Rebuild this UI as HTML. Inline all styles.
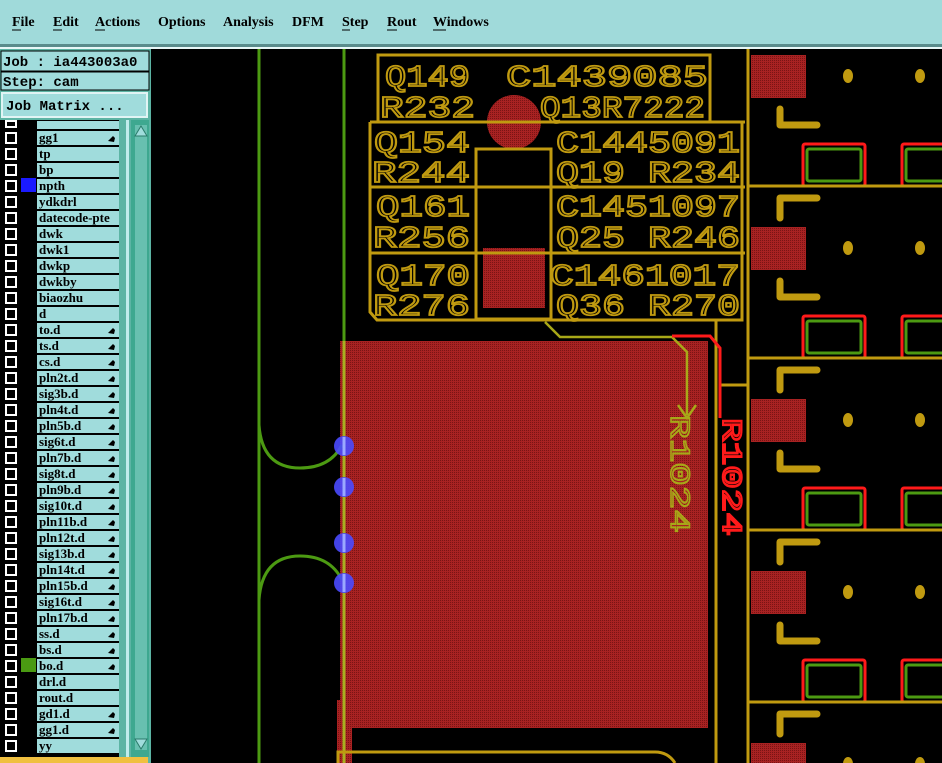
<!DOCTYPE html>
<html><head><meta charset="utf-8"><style>
html,body{margin:0;padding:0;width:942px;height:763px;overflow:hidden;background:#000}
svg{display:block;position:absolute;left:0;top:0}
.m{font-family:"Liberation Serif",serif;font-weight:bold;font-size:14px;fill:#000}
.mono{font-family:"Liberation Mono",monospace;font-weight:bold;font-size:14px;fill:#000}
.ln{font-family:"Liberation Serif",serif;font-weight:bold;font-size:13px;fill:#000}
.g{font-family:"Liberation Mono",monospace;font-size:31px;fill:none;stroke:#c09a10;stroke-width:1.8}
</style></head><body>
<svg width="942" height="763" viewBox="0 0 942 763" xmlns="http://www.w3.org/2000/svg">
<defs>
<pattern id="h" width="2" height="2" patternUnits="userSpaceOnUse">
<rect width="2" height="2" fill="#a82222"/><rect x="0" y="0" width="1" height="1" fill="#7a1414"/>
</pattern>
</defs>
<rect x="0" y="49" width="151" height="714" fill="#5cb4a4"/>
<rect x="1" y="51" width="148" height="20" fill="#a0dcdc" stroke="#000" stroke-width="1"/>
<text class="mono" x="3" y="66">Job : ia443003a0</text>
<rect x="1" y="72" width="148" height="18" fill="#a0dcdc" stroke="#000" stroke-width="1"/>
<text class="mono" x="3" y="86">Step: cam</text>
<rect x="2" y="93" width="145" height="24" fill="#a0dcdc" stroke="#e0f4f4" stroke-width="2"/>
<text class="mono" x="6" y="110">Job Matrix ...</text>
<rect x="0" y="120" width="125" height="637" fill="#000"/>
<rect x="119" y="120" width="6" height="637" fill="#5cb4a4"/>
<rect x="126" y="120" width="3" height="637" fill="#c0ecec"/>
<rect x="131" y="120" width="18" height="637" fill="#3ea890"/>
<rect x="135" y="125" width="12" height="625" fill="#68c0b0"/>
<polygon points="141,126 147,136 135,136" fill="#a0dcdc" stroke="#2a7a6a"/>
<polygon points="135,739 147,739 141,749" fill="#a0dcdc" stroke="#2a7a6a"/>
<rect x="0" y="757" width="148" height="6" fill="#f0c040"/>
<g id="list"></g>
<rect x="152" y="49" width="790" height="714" fill="#000"/>
<rect x="340" y="341" width="368" height="387" fill="url(#h)"/>
<rect x="337" y="700" width="15" height="63" fill="url(#h)"/>
<g stroke="#4c9a12" stroke-width="3" fill="none">
<line x1="259" y1="49" x2="259" y2="763"/>
<line x1="344" y1="49" x2="344" y2="341"/>
<path d="M259,425 Q262,468 300,468 Q330,468 342,445"/>
<path d="M259,600 Q262,556 300,556 Q330,556 342,580"/>
</g>
<line x1="344" y1="341" x2="344" y2="763" stroke="#a8b020" stroke-width="3"/>
<g fill="#4a4aff" fill-opacity="0.9">
<circle cx="344" cy="446" r="10"/><circle cx="344" cy="487" r="10"/><circle cx="344" cy="543" r="10"/><circle cx="344" cy="583" r="10"/>
</g>
<g stroke="#9aa8ff" stroke-width="3"><line x1="344" y1="437" x2="344" y2="455"/><line x1="344" y1="478" x2="344" y2="496"/><line x1="344" y1="534" x2="344" y2="552"/><line x1="344" y1="574" x2="344" y2="592"/></g>
<circle cx="514" cy="122" r="27" fill="url(#h)"/>
<rect x="483" y="248" width="62" height="60" fill="url(#h)"/>
<g stroke="#c09a10" stroke-width="3" fill="none">
<polyline points="378,122 378,55 710,55 710,122"/>
<line x1="370" y1="122" x2="745" y2="122"/>
<line x1="370" y1="187" x2="745" y2="187"/>
<line x1="370" y1="253" x2="745" y2="253"/>
<polyline points="370,122 370,312 377,320 742,320 742,122"/>
<rect x="476" y="149" width="75" height="170"/>
<line x1="716" y1="320" x2="716" y2="763"/>
<line x1="748" y1="49" x2="748" y2="763"/>
<polyline points="720,385 748,385"/>
<path d="M338,763 L338,752 L655,752 Q668,752 675,763"/>
</g>
<g stroke="#a8a818" stroke-width="2.5" fill="none">
<polyline points="545,322 560,337 672,337 687,352 687,415"/>
<polyline points="678,405 687,418 696,405"/>
</g>
<polyline points="672,336 710,336 720,348 720,418" stroke="#ff1a1a" stroke-width="3" fill="none"/>
<g class="g">
<text x="385" y="86" textLength="85" lengthAdjust="spacingAndGlyphs">Q149</text>
<text x="506" y="86" textLength="202" lengthAdjust="spacingAndGlyphs">C1439085</text>
<text x="380" y="117" textLength="95" lengthAdjust="spacingAndGlyphs">R232</text>
<text x="540" y="117" textLength="165" lengthAdjust="spacingAndGlyphs">Q13R7222</text>
<text x="374" y="152" textLength="96" lengthAdjust="spacingAndGlyphs">Q154</text>
<text x="556" y="152" textLength="184" lengthAdjust="spacingAndGlyphs">C1445091</text>
<text x="372" y="182" textLength="98" lengthAdjust="spacingAndGlyphs">R244</text>
<text x="556" y="182" textLength="184" lengthAdjust="spacingAndGlyphs">Q19 R234</text>
<text x="376" y="216" textLength="94" lengthAdjust="spacingAndGlyphs">Q161</text>
<text x="556" y="216" textLength="184" lengthAdjust="spacingAndGlyphs">C1451097</text>
<text x="373" y="247" textLength="97" lengthAdjust="spacingAndGlyphs">R256</text>
<text x="556" y="247" textLength="184" lengthAdjust="spacingAndGlyphs">Q25 R246</text>
<text x="376" y="285" textLength="94" lengthAdjust="spacingAndGlyphs">Q170</text>
<text x="550" y="285" textLength="190" lengthAdjust="spacingAndGlyphs">C1461017</text>
<text x="373" y="315" textLength="97" lengthAdjust="spacingAndGlyphs">R276</text>
<text x="556" y="315" textLength="184" lengthAdjust="spacingAndGlyphs">Q36 R270</text>
</g>
<text transform="translate(671,415) rotate(90)" textLength="118" lengthAdjust="spacingAndGlyphs" style="font-family:'Liberation Mono',monospace;font-size:28px;fill:none;stroke:#a8a818;stroke-width:1.6">R1024</text>
<text transform="translate(723,418) rotate(90)" textLength="118" lengthAdjust="spacingAndGlyphs" style="font-family:'Liberation Mono',monospace;font-size:28px;fill:none;stroke:#ff1a1a;stroke-width:2">R1024</text>
<g id="cells"></g>
<rect x="0" y="0" width="942" height="45" fill="#a0dada"/>
<rect x="0" y="44" width="942" height="3" fill="#5a8c8c"/>
<rect x="0" y="47" width="942" height="2" fill="#e8f8f8"/>
<g class="m">
<text x="12" y="26">File</text><text x="53" y="26">Edit</text><text x="95" y="26">Actions</text>
<text x="158" y="26">Options</text><text x="223" y="26">Analysis</text><text x="292" y="26">DFM</text>
<text x="342" y="26">Step</text><text x="387" y="26">Rout</text><text x="433" y="26">Windows</text>
</g>
<g stroke="#000" stroke-width="1">
<line x1="12" y1="30" x2="21" y2="30"/><line x1="53" y1="30" x2="62" y2="30"/><line x1="95" y1="30" x2="105" y2="30"/>
<line x1="342" y1="30" x2="350" y2="30"/><line x1="387" y1="30" x2="397" y2="30"/><line x1="433" y1="30" x2="446" y2="30"/>
</g>
</svg>
<script>
var NS="http://www.w3.org/2000/svg";
function el(p,t,a){var e=document.createElementNS(NS,t);for(var k in a)e.setAttribute(k,a[k]);p.appendChild(e);return e;}
var L=document.getElementById("list");
var names=["gg1","tp","bp","npth","ydkdrl","datecode-pte","dwk","dwk1","dwkp","dwkby","biaozhu","d","to.d","ts.d","cs.d","pln2t.d","sig3b.d","pln4t.d","pln5b.d","sig6t.d","pln7b.d","sig8t.d","pln9b.d","sig10t.d","pln11b.d","pln12t.d","sig13b.d","pln14t.d","pln15b.d","sig16t.d","pln17b.d","ss.d","bs.d","bo.d","drl.d","rout.d","gd1.d","gg1.d","yy"];
var arrow={"gg1":1,"to.d":1,"ts.d":1,"cs.d":1,"ss.d":1,"bs.d":1,"bo.d":1,"gd1.d":1,"gg1.d":1};
for(var i=-1;i<names.length;i++){
 var y=130+16*i;
 if(i<0){el(L,"rect",{x:37,y:121,width:82,height:8,fill:"#a0dcdc"});el(L,"rect",{x:6,y:121,width:10,height:6,fill:"none",stroke:"#fff","stroke-width":2});continue;}
 el(L,"rect",{x:37,y:y+1,width:82,height:14,fill:"#a0dcdc"});
 el(L,"rect",{x:6,y:y+3,width:10,height:10,fill:"none",stroke:"#fff","stroke-width":2});
 var n=names[i];
 var t=el(L,"text",{x:39,y:y+12,"class":"ln"});t.textContent=n;
 if(n.indexOf("pln")==0||n.indexOf("sig")==0||arrow[n]){el(L,"polygon",{points:"108,"+(y+11)+" 113,"+(y+6)+" 115,"+(y+8)+" 114,"+(y+12),fill:"#000"});}
}
el(L,"rect",{x:21,y:178,width:15,height:14,fill:"#1a1aff"});
el(L,"rect",{x:21,y:658,width:15,height:14,fill:"#4a9a12"});
el(L,"rect",{x:119,y:120,width:6,height:637,fill:"#5cb4a4"});
var C=document.getElementById("cells");
for(var k=0;k<5;k++){
 var y0=55+172*k;
 el(C,"rect",{x:751,y:y0,width:55,height:43,fill:"url(#h)"});
 el(C,"ellipse",{cx:848,cy:y0+21,rx:5,ry:7,fill:"#c09a10"});
 el(C,"ellipse",{cx:920,cy:y0+21,rx:5,ry:7,fill:"#c09a10"});
 el(C,"path",{d:"M780,"+(y0+54)+" L780,"+(y0+70)+" L817,"+(y0+70),stroke:"#c09a10","stroke-width":7,fill:"none","stroke-linecap":"round","stroke-linejoin":"round"});
 el(C,"path",{d:"M817,"+(y0+143)+" L780,"+(y0+143)+" L780,"+(y0+163),stroke:"#c09a10","stroke-width":7,fill:"none","stroke-linecap":"round","stroke-linejoin":"round"});
 [803,902].forEach(function(x){
  el(C,"rect",{x:x,y:y0+89,width:62,height:42,fill:"none",stroke:"#ff1a1a","stroke-width":3,rx:2});
  el(C,"rect",{x:x+4,y:y0+94,width:54,height:32,fill:"none",stroke:"#4c9a12","stroke-width":3,rx:2});
 });
 el(C,"line",{x1:748,y1:y0+131,x2:942,y2:y0+131,stroke:"#c09a10","stroke-width":3});
}
</script>
</body></html>
